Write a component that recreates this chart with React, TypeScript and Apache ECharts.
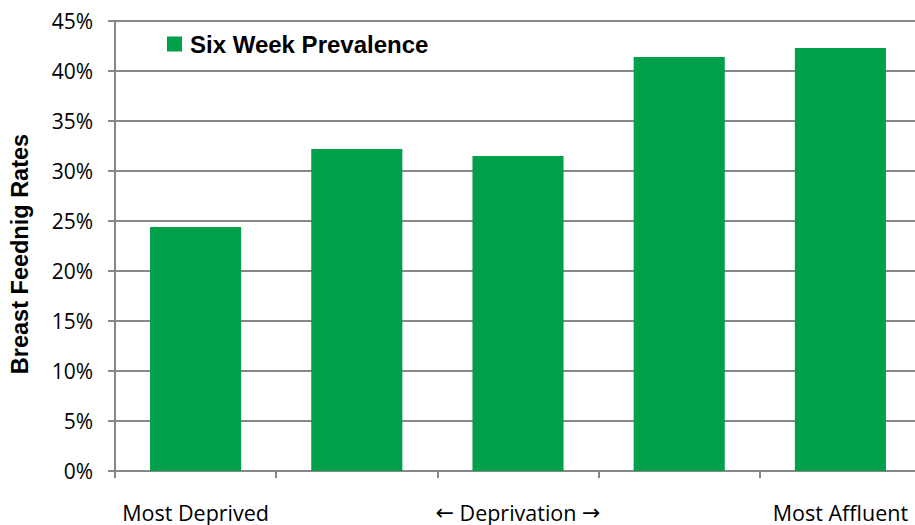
import React, { useEffect, useRef } from "react";
import * as echarts from "echarts";

const categories = ["Most Deprived", "", "\u2190 Deprivation \u2192", "", "Most Affluent"];
const sixWeekPrevalence = [24.4, 32.2, 31.5, 41.4, 42.3];
const seriesName = "Six Week Prevalence";
const yAxisTitle = "Breast Feednig Rates";

export default function App() {
  const ref = useRef<HTMLDivElement>(null);
  useEffect(() => {
    document.body.style.margin = "0";
    const chart = echarts.init(ref.current!, null, { renderer: "svg" });
    const grey = "#878787";
    chart.setOption({
      animation: false,
      backgroundColor: "#ffffff",
      grid: {
        left: 115,
        top: 21,
        width: 806,
        height: 450,
        containLabel: false,
        outerBoundsMode: "none",
      },
      legend: {
        show: true,
        left: 167,
        top: 32,
        padding: 0,
        itemWidth: 15,
        itemHeight: 15,
        icon: "rect",
        data: [seriesName],
        textStyle: {
          fontFamily: "Liberation Sans",
          fontWeight: "bold",
          fontSize: 24,
          color: "#000",
          padding: [0, 0, 0, 3],
        },
      },
      xAxis: {
        type: "category",
        data: categories,
        axisLine: { show: true, lineStyle: { color: grey, width: 2 } },
        axisTick: { show: true, length: 7, lineStyle: { color: grey, width: 2 } },
        axisLabel: {
          interval: 0,
          margin: 30,
          fontFamily: "Open Sans",
          fontSize: 21.5,
          color: "#000",
          formatter: (v: string) => v.replace(/([\u2190\u2192])/g, "{a|$1}"),
          rich: {
            a: { fontFamily: "DejaVu Sans", fontSize: 22, color: "#000" },
          },
        },
        splitLine: { show: false },
      },
      yAxis: {
        type: "value",
        min: 0,
        max: 45,
        interval: 5,
        name: yAxisTitle,
        nameLocation: "middle",
        nameGap: 83,
        nameTextStyle: {
          fontFamily: "Liberation Sans",
          fontWeight: "bold",
          fontSize: 23.5,
          color: "#000",
          padding: [0, 16, 0, 0],
        },
        axisLine: { show: true, lineStyle: { color: grey, width: 2 } },
        axisTick: { show: true, length: 7, lineStyle: { color: grey, width: 2 } },
        axisLabel: {
          margin: 22,
          formatter: (v: number) => `${v}%`,
          fontFamily: "Open Sans",
          fontSize: 21,
          color: "#000",
        },
        splitLine: { show: true, lineStyle: { color: grey, width: 2 } },
      },
      series: [
        {
          name: seriesName,
          type: "bar",
          data: sixWeekPrevalence,
          barCategoryGap: "43.5%",
          itemStyle: { color: "#00A04A" },
        },
      ],
    });
    return () => chart.dispose();
  }, []);
  return <div ref={ref} style={{ width: 915, height: 525 }} />;
}
